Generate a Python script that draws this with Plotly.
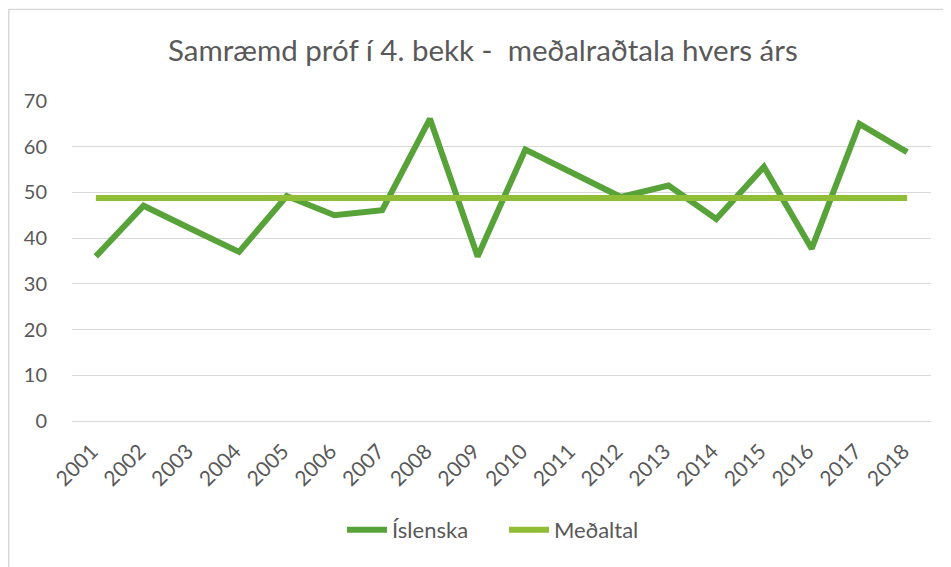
import plotly.graph_objects as go

years = ["2001", "2002", "2003", "2004", "2005", "2006", "2007", "2008", "2009",
         "2010", "2011", "2012", "2013", "2014", "2015", "2016", "2017", "2018"]
islenska = [36.0, 47.1, 42.0, 37.0, 49.2, 45.0, 46.1, 66.1, 36.0,
            59.4, 54.2, 49.0, 51.5, 44.2, 55.6, 37.7, 65.0, 58.8]
medaltal = [48.8] * len(years)
y_ticks = [0, 10, 20, 30, 40, 50, 60, 70]

title_text = "Samræmd próf í 4. bekk -  meðalraðtala hvers árs"
FONT = "Lato, 'Open Sans', sans-serif"
GREY = "#595959"

fig = go.Figure()
fig.add_trace(go.Scatter(x=years, y=islenska, mode="lines", name="Íslenska",
                         line=dict(color="#58A23A", width=6)))
fig.add_trace(go.Scatter(x=years, y=medaltal, mode="lines", name="Meðaltal",
                         line=dict(color="#8FBD35", width=6)))

# page body has an 8px margin, so work in figure pixels = screen - 8
W, H = 943, 559
L, R, T, B = 64, 923, 93, 413
PW, PH = R - L, B - T


def px(x):
    return (x - L) / PW


def py(y):
    return (B - y) / PH


fig.update_layout(
    width=W, height=H,
    margin=dict(l=L, r=W - R, t=T, b=H - B, autoexpand=False),
    paper_bgcolor="white", plot_bgcolor="white",
    font=dict(family=FONT, color=GREY, size=20),
    showlegend=True,
    legend=dict(orientation="h", x=px(334), xanchor="left",
                y=py(522), yanchor="middle",
                font=dict(size=22, color=GREY), itemwidth=40,
                entrywidth=107, entrywidthmode="pixels",
                bgcolor="rgba(0,0,0,0)"),
    hovermode=False,
)
fig.update_xaxes(type="category", tickangle=-45, showgrid=False, showline=False,
                 ticks="", tickfont=dict(size=21, color=GREY), range=[-0.5, 17.5],
                 ticklabelstandoff=13, ticklabelshift=-4)
fig.update_yaxes(range=[0, 70], tickvals=y_ticks, showgrid=True, gridcolor="#d9d9d9",
                 gridwidth=1.3, zeroline=True, zerolinecolor="#d9d9d9", zerolinewidth=1.3,
                 showline=False, ticks="", ticklabelstandoff=24,
                 tickfont=dict(size=20, color=GREY))

fig.add_annotation(text=title_text, xref="paper", yref="paper",
                   x=px(475), y=py(42),
                   xanchor="center", yanchor="middle", showarrow=False,
                   font=dict(size=29.5, color=GREY, family=FONT))

fig.add_shape(type="rect", xref="paper", yref="paper",
              x0=px(0.8), x1=px(990), y0=py(620), y1=py(1.5),
              line=dict(color="#d9d9d9", width=1.5), layer="below")

fig.write_html("out.html")
